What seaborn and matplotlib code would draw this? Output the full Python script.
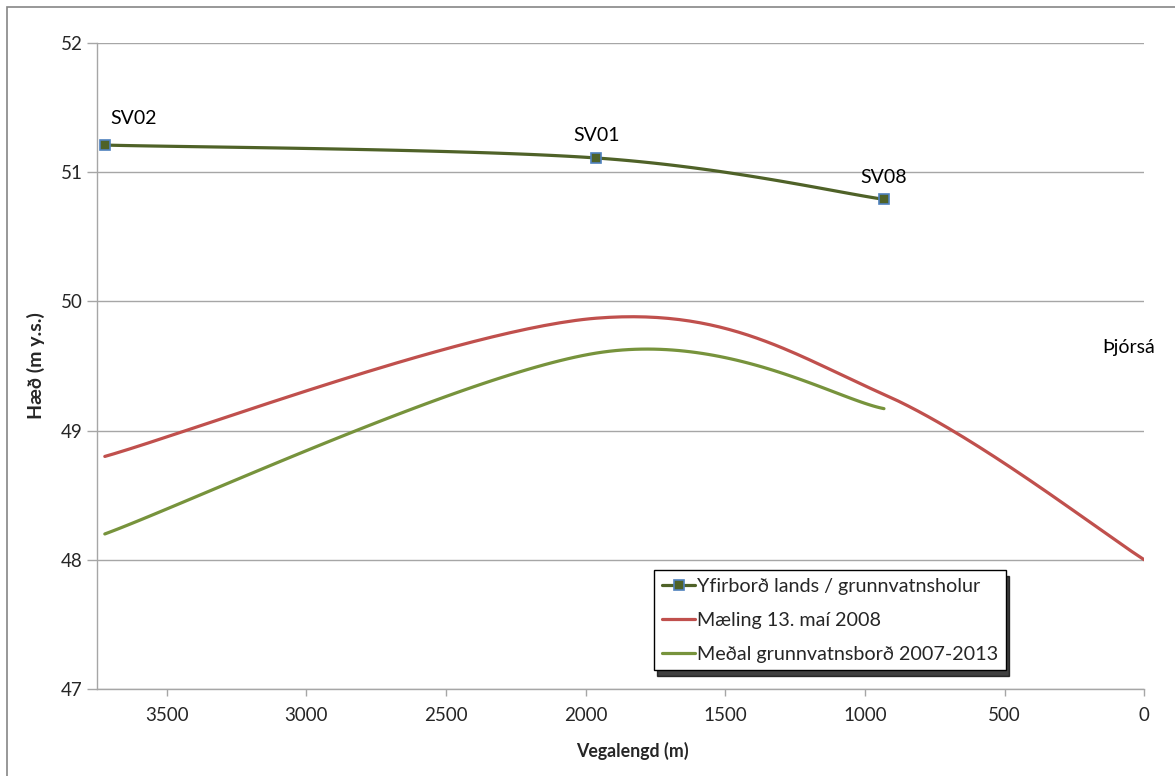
import numpy as np
import pandas as pd
import matplotlib
matplotlib.use("Agg")
import matplotlib.pyplot as plt
from matplotlib.lines import Line2D
from matplotlib.patches import Rectangle
import seaborn as sns

# values
well_names = ["SV02", "SV01", "SV08"]
well_dist = [3721, 1962, 932]
well_elev = [51.21, 51.11, 50.79]

may2008_dist = [3721, 1962, 932, 0]
may2008_elev = [48.80, 49.87, 49.28, 48.00]

mean_dist = [3721, 1962, 932]
mean_elev = [48.20, 49.60, 49.17]

river_label = "Þjórsá"
river_dist = 55
river_elev = 49.64

c_land = "#4F6228"
c_edge = "#4F81BD"
c_red = "#C0504D"
c_green = "#77933C"
grey = "#A6A6A6"


def smooth(xs, ys, n=60):
    # Excel style smoothed line (bezier through the points)
    p = np.column_stack([xs, ys]).astype(float)
    out = []
    for i in range(len(p) - 1):
        p0 = p[i - 1] if i > 0 else p[i]
        p1, p2 = p[i], p[i + 1]
        p3 = p[i + 2] if i + 2 < len(p) else p[i + 1]
        c1 = p1 + (p2 - p0) / 6
        c2 = p2 - (p3 - p1) / 6
        t = np.linspace(0, 1, n)[:, None]
        seg = (1 - t) ** 3 * p1 + 3 * (1 - t) ** 2 * t * c1 + 3 * (1 - t) * t ** 2 * c2 + t ** 3 * p2
        out.append(seg if i == 0 else seg[1:])
    s = np.vstack(out)
    return pd.DataFrame({"x": s[:, 0], "y": s[:, 1]})


sns.set_style("white")
plt.rcParams["font.family"] = ["Lato", "DejaVu Sans"]

fig = plt.figure(figsize=(11.75, 7.76), dpi=100)
ax = fig.add_axes([0.0823, 0.1121, 0.8916, 0.8325])

sns.lineplot(data=smooth(may2008_dist, may2008_elev), x="x", y="y", sort=False,
             color=c_red, lw=2.3, ax=ax, zorder=3)
sns.lineplot(data=smooth(mean_dist, mean_elev), x="x", y="y", sort=False,
             color=c_green, lw=2.3, ax=ax, zorder=3)
sns.lineplot(data=smooth(well_dist, well_elev), x="x", y="y", sort=False,
             color=c_land, lw=2.3, ax=ax, zorder=4)
ax.plot(well_dist, well_elev, ls="none", marker="s", ms=7, mfc=c_land,
        mec=c_edge, mew=1.2, zorder=5)

# data labels
offsets = [(21, 19), (0, 16), (0, 16)]
for name, xd, yd, off in zip(well_names, well_dist, well_elev, offsets):
    ax.annotate(name, (xd, yd), xytext=off, textcoords="offset points",
                ha="center", va="center", fontsize=14, color="black")
ax.text(river_dist, river_elev, river_label, ha="center", va="center",
        fontsize=14, color="black")

ax.set_xlim(3750, 0)
ax.set_ylim(47, 52)
ax.set_xticks(np.arange(3500, -1, -500))
ax.set_yticks(np.arange(47, 53, 1))
ax.grid(axis="y", color=grey, lw=1)
ax.grid(axis="x", visible=False)
for s in ["top", "right"]:
    ax.spines[s].set_visible(False)
for s in ["left", "bottom"]:
    ax.spines[s].set_color(grey)
    ax.spines[s].set_linewidth(1)
ax.tick_params(axis="x", direction="out", length=5, color=grey, width=1,
               labelsize=13.5, pad=8, bottom=True)
ax.tick_params(axis="y", direction="out", length=7, color=grey, width=1,
               labelsize=13.5, pad=3, left=True)

ax.set_xlabel("Vegalengd (m)", fontsize=12.8, fontweight="bold")
ax.set_ylabel("Hæð (m y.s.)", fontsize=14, fontweight="bold")
ax.xaxis.set_label_coords(0.511, -0.082)
ax.yaxis.set_label_coords(-0.049, 0.5)

handles = [
    Line2D([], [], color=c_land, lw=2.3, marker="s", ms=7, mfc=c_land, mec=c_edge, mew=1.2),
    Line2D([], [], color=c_red, lw=2.3),
    Line2D([], [], color=c_green, lw=2.3),
]
labels = ["Yfirborð lands / grunnvatnsholur", "Mæling 13. maí 2008",
          "Meðal grunnvatnsborð 2007-2013"]
leg = ax.legend(handles, labels, loc="upper left", bbox_to_anchor=(0.532, 0.184),
                borderaxespad=0, fontsize=14.2, frameon=True, fancybox=False,
                edgecolor="black", handlelength=1.7, handletextpad=0.1,
                labelspacing=0.85, borderpad=0.4,
                shadow={"ox": 2, "oy": -4, "color": "black", "alpha": 0.75})
leg.get_frame().set_linewidth(1)

fig.patches.append(Rectangle((7 / 1175, -0.1), 1.2, 1.1 - 7 / 776, transform=fig.transFigure,
                             fill=False, edgecolor="#868686", lw=1.2))

fig.savefig("out.png", dpi=100)
